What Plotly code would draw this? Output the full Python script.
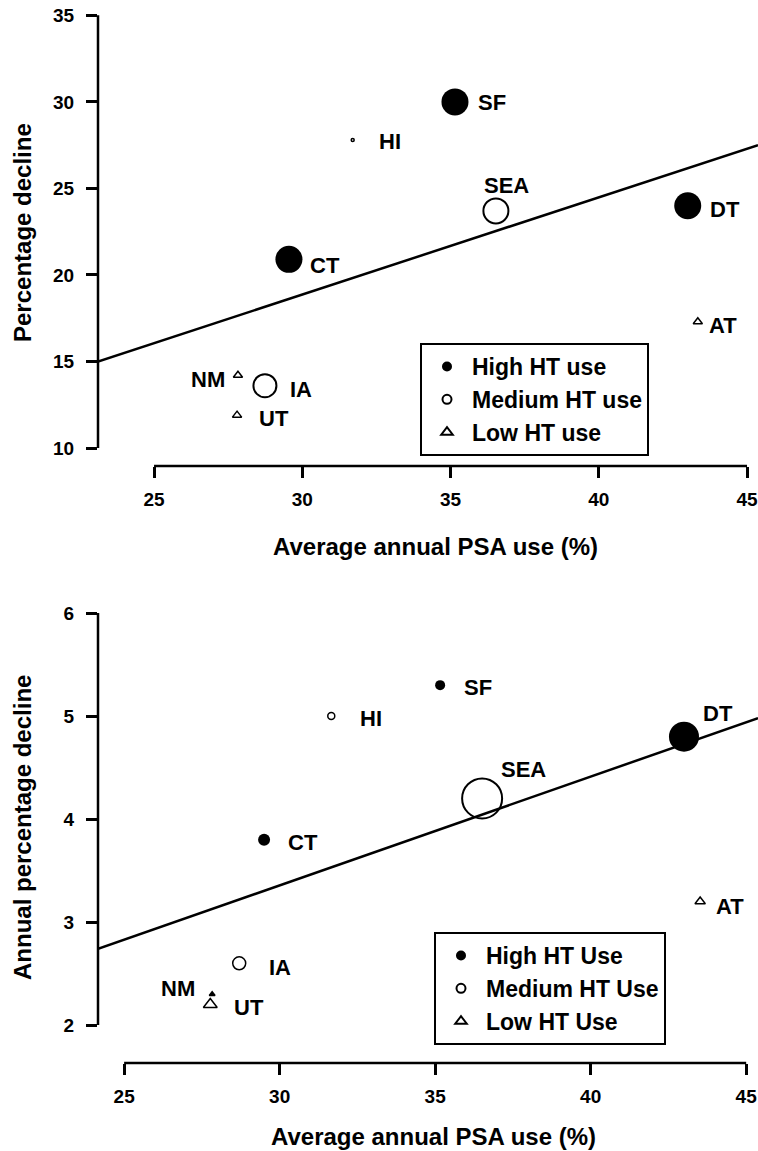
import plotly.graph_objects as go

W, H = 758, 1151
FAMILY = "Liberation Sans, Arial, Helvetica, sans-serif"

# ---------------- data ----------------
states = ["SF", "HI", "SEA", "DT", "CT", "NM", "IA", "UT", "AT"]
groups = ["High", "Medium", "Medium", "High", "High", "Low", "Medium", "Low", "Low"]

# Top panel: percentage decline
top_psa = [35.15, 31.7, 36.53, 43.0, 29.55, 27.83, 28.74, 27.8, 43.34]
top_decline = [30.0, 27.8, 23.7, 24.0, 20.9, 14.2, 13.6, 11.9, 17.3]
top_size = [27, 3, 25, 27, 27, 8, 23, 8, 8]
top_fit_x = [23.11, 45.37]
top_fit_y = [15.0, 27.5]
top_xticks = [25, 30, 35, 40, 45]
top_yticks = [10, 15, 20, 25, 30, 35]
top_legend_names = {"High": "High HT use", "Medium": "Medium HT use", "Low": "Low HT use"}

# Bottom panel: annual percentage decline
bot_psa = [35.16, 31.66, 36.51, 43.0, 29.5, 27.83, 28.7, 27.77, 43.52]
bot_decline = [5.3, 5.0, 4.2, 4.8, 3.8, 2.3, 2.6, 2.2, 3.2]
bot_size = [10, 7, 40, 30, 12, 5, 13, 12, 9]
bot_fit_x = [24.16, 45.38]
bot_fit_y = [2.74, 4.98]
bot_xticks = [25, 30, 35, 40, 45]
bot_yticks = [2, 3, 4, 5, 6]
bot_legend_names = {"High": "High HT Use", "Medium": "Medium HT Use", "Low": "Low HT Use"}

x_title = "Average annual PSA use (%)"
top_y_title = "Percentage decline"
bot_y_title = "Annual percentage decline"

# ---------------- styling (label placement in pixels) ----------------
top_lab_anchor = ["left", "left", "center", "left", "left", "right", "left", "left", "left"]
top_lab_dx = [21, 24, 11, 20, 19, -11, 23, 20, 9]
top_lab_dy = [-1, -2, 25, -4, -6, -4, -4, -3, -4]
top_symbol_override = [None] * 9

bot_lab_anchor = ["left", "left", "left", "left", "left", "right", "left", "left", "left"]
bot_lab_dx = [22, 27, 17, 17, 22, -15, 28, 22, 14]
bot_lab_dy = [-2, -2, 29, 23, -3, 6, -4, -3, -5]
bot_symbol_override = [None, None, None, None, None, "triangle-up", None, None, None]

SYMBOLS = {"High": "circle", "Medium": "circle-open", "Low": "triangle-up-open"}
LEGEND_MARKER_SIZE = {"High": 10, "Medium": 9, "Low": 10}


def font(size):
    return dict(family=FAMILY, size=size, color="black", weight="bold")


fig = go.Figure()


def add_panel(xs, ys, sizes, override, names, fit_x, fit_y, xa, ya, legend):
    fig.add_trace(go.Scatter(
        x=fit_x, y=fit_y, mode="lines", line=dict(color="black", width=2.5),
        showlegend=False, hoverinfo="skip", xaxis=xa, yaxis=ya))
    for g in ["High", "Medium", "Low"]:
        idx = [i for i, gg in enumerate(groups) if gg == g]
        syms = [override[i] or SYMBOLS[g] for i in idx]
        lw = [0 if g == "High" else (2 if sizes[i] > 15 else 1.5) for i in idx]
        fig.add_trace(go.Scatter(
            x=[xs[i] for i in idx], y=[ys[i] for i in idx],
            mode="markers", name=names[g], legend=legend, showlegend=False,
            marker=dict(symbol=syms, size=[sizes[i] for i in idx], color="black",
                        opacity=1, line=dict(color="black", width=lw)),
            text=[states[i] for i in idx], cliponaxis=False,
            xaxis=xa, yaxis=ya))
        # legend key for the group
        fig.add_trace(go.Scatter(
            x=[None], y=[None], mode="markers", name=names[g], legend=legend,
            showlegend=True,
            marker=dict(symbol=SYMBOLS[g], size=LEGEND_MARKER_SIZE[g], color="black",
                        opacity=1, line=dict(color="black", width=0 if g == "High" else 2)),
            xaxis=xa, yaxis=ya))


add_panel(top_psa, top_decline, top_size, top_symbol_override, top_legend_names,
          top_fit_x, top_fit_y, "x", "y", "legend")
add_panel(bot_psa, bot_decline, bot_size, bot_symbol_override, bot_legend_names,
          bot_fit_x, bot_fit_y, "x2", "y2", "legend2")

annotations = []
for xs, ys, anc, dx, dy, xr, yr in [
        (top_psa, top_decline, top_lab_anchor, top_lab_dx, top_lab_dy, "x", "y"),
        (bot_psa, bot_decline, bot_lab_anchor, bot_lab_dx, bot_lab_dy, "x2", "y2")]:
    for i, s in enumerate(states):
        annotations.append(dict(
            x=xs[i], y=ys[i], xref=xr, yref=yr, text=s, showarrow=False,
            xanchor=anc[i], yanchor="middle", xshift=dx[i], yshift=dy[i], font=font(22)))


def px_x(p):
    return p / W


def px_y(p):
    return 1 - p / H


# axis titles
annotations += [
    dict(x=px_x(435), y=px_y(546), xref="paper", yref="paper", text=x_title,
         showarrow=False, xanchor="center", yanchor="middle", font=font(24)),
    dict(x=px_x(433), y=px_y(1136), xref="paper", yref="paper", text=x_title,
         showarrow=False, xanchor="center", yanchor="middle", font=font(24)),
    dict(x=px_x(22), y=px_y(233), xref="paper", yref="paper", text=top_y_title,
         showarrow=False, xanchor="center", yanchor="middle", textangle=-90, font=font(24)),
    dict(x=px_x(22), y=px_y(828), xref="paper", yref="paper", text=bot_y_title,
         showarrow=False, xanchor="center", yanchor="middle", textangle=-90, font=font(24)),
]

shapes = [
    dict(type="line", xref="x domain", yref="y", x0=0, x1=0, y0=min(top_yticks), y1=max(top_yticks),
         line=dict(color="black", width=2.5)),
    dict(type="line", xref="x", yref="y domain", x0=min(top_xticks), x1=max(top_xticks), y0=0, y1=0,
         line=dict(color="black", width=2.5)),
    dict(type="line", xref="x2 domain", yref="y2", x0=0, x1=0, y0=min(bot_yticks), y1=max(bot_yticks),
         line=dict(color="black", width=2.5)),
    dict(type="line", xref="x2", yref="y2 domain", x0=min(bot_xticks), x1=max(bot_xticks), y0=0, y1=0,
         line=dict(color="black", width=2.5)),
]

axis_common = dict(showgrid=False, zeroline=False, showline=False, ticks="outside",
                   ticklen=11, tickwidth=2.5, tickcolor="black", tickfont=font(19),
                   ticklabeloverflow="allow", automargin=False)

legend_common = dict(xanchor="left", yanchor="top", bordercolor="black", borderwidth=2,
                     bgcolor="white", font=font(23), itemsizing="trace", itemwidth=40,
                     tracegroupgap=0, itemclick=False, itemdoubleclick=False)

fig.update_layout(
    width=W, height=H, margin=dict(l=0, r=0, t=0, b=0, pad=0, autoexpand=False),
    paper_bgcolor="white", plot_bgcolor="white", font=font(19),
    xaxis=dict(domain=[px_x(98), 1.0], range=[23.11, 45.37], tickvals=top_xticks,
               anchor="y", ticklabelstandoff=5, **axis_common),
    yaxis=dict(domain=[px_y(466), px_y(15)], range=[8.961, 35.02], tickvals=top_yticks,
               anchor="x", ticklabelstandoff=8, **axis_common),
    xaxis2=dict(domain=[px_x(98), 1.0], range=[24.16, 45.38], tickvals=bot_xticks,
                anchor="y2", ticklabelstandoff=5, **axis_common),
    yaxis2=dict(domain=[px_y(1063), px_y(612)], range=[1.632, 6.01], tickvals=bot_yticks,
                anchor="x2", ticklabelstandoff=8, **axis_common),
    legend=dict(x=px_x(420), y=px_y(343), **legend_common),
    legend2=dict(x=px_x(434), y=px_y(932), **legend_common),
    annotations=annotations, shapes=shapes, showlegend=True,
)

fig.write_html(
    "out.html",
    config={"displayModeBar": False},
    post_script=("document.documentElement.style.margin='0px';"
                 "document.documentElement.style.overflow='hidden';"
                 "document.body.style.margin='0px';"
                 "document.body.style.overflow='hidden';"),
)
